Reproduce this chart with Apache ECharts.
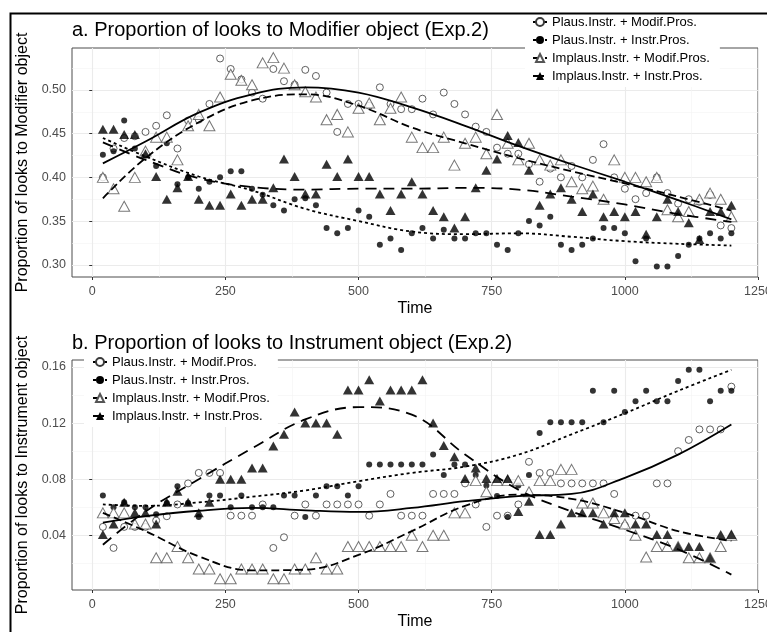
<!DOCTYPE html>
<html>
<head>
<meta charset="utf-8">
<script src="https://cdn.jsdelivr.net/npm/echarts@6/dist/echarts.min.js"></script>
<style>
html, body { margin: 0; padding: 0; background: #fff; }
#main { width: 767px; height: 632px; }
</style>
</head>
<body>
<div id="main"></div>
<script>
var myChart = echarts.init(document.getElementById('main'));

const names = ['Plaus.Instr. + Modif.Pros.', 'Plaus.Instr. + Instr.Pros.', 'Implaus.Instr. + Modif.Pros.', 'Implaus.Instr. + Instr.Pros.'];

// time bins (ms)
const times = [20, 40, 60, 80, 100, 120, 140, 160, 180, 200,
    220, 240, 260, 280, 300, 320, 340, 360, 380, 400,
    420, 440, 460, 480, 500, 520, 540, 560, 580, 600,
    620, 640, 660, 680, 700, 720, 740, 760, 780, 800,
    820, 840, 860, 880, 900, 920, 940, 960, 980, 1000,
    1020, 1040, 1060, 1080, 1100, 1120, 1140, 1160, 1180, 1200];

// a. looks to Modifier object
const aPlausModif = [0.400, 0.433, 0.445, 0.447, 0.452, 0.459, 0.471, 0.433, 0.465, 0.466,
    0.484, 0.536, 0.524, 0.512, 0.497, 0.490, 0.524, 0.510, 0.506, 0.523,
    0.516, 0.497, 0.452, 0.484, 0.484, 0.482, 0.503, 0.484, 0.478, 0.478,
    0.490, 0.472, 0.497, 0.484, 0.472, 0.458, 0.452, 0.434, 0.427, 0.427,
    0.415, 0.395, 0.410, 0.400, 0.413, 0.400, 0.420, 0.438, 0.400, 0.387,
    0.375, 0.382, 0.400, 0.382, 0.370, 0.375, 0.372, 0.380, 0.345, 0.342];
const aPlausInstr = [0.426, 0.430, 0.465, 0.433, 0.425, 0.413, 0.439, 0.392, 0.400, 0.387,
    0.395, 0.400, 0.407, 0.407, 0.387, 0.380, 0.368, 0.362, 0.375, 0.376,
    0.368, 0.342, 0.336, 0.342, 0.362, 0.355, 0.323, 0.330, 0.317, 0.336,
    0.342, 0.330, 0.340, 0.330, 0.330, 0.336, 0.336, 0.323, 0.317, 0.336,
    0.350, 0.345, 0.355, 0.323, 0.317, 0.323, 0.330, 0.342, 0.342, 0.336,
    0.304, 0.330, 0.298, 0.298, 0.310, 0.323, 0.330, 0.336, 0.330, 0.336];
const aImplausModif = [0.400, 0.387, 0.367, 0.400, 0.430, 0.446, 0.446, 0.420, 0.459, 0.472,
    0.459, 0.492, 0.518, 0.511, 0.506, 0.531, 0.537, 0.525, 0.506, 0.498,
    0.492, 0.466, 0.472, 0.452, 0.479, 0.485, 0.466, 0.479, 0.492, 0.446,
    0.434, 0.434, 0.446, 0.414, 0.439, 0.446, 0.427, 0.472, 0.439, 0.420,
    0.439, 0.420, 0.414, 0.420, 0.395, 0.387, 0.390, 0.375, 0.420, 0.400,
    0.400, 0.395, 0.400, 0.363, 0.355, 0.361, 0.375, 0.382, 0.375, 0.355];
const aImplausInstr = [0.455, 0.455, 0.449, 0.449, 0.427, 0.401, 0.375, 0.388, 0.401, 0.375,
    0.368, 0.368, 0.381, 0.368, 0.375, 0.375, 0.388, 0.421, 0.401, 0.381,
    0.381, 0.415, 0.401, 0.421, 0.401, 0.401, 0.381, 0.362, 0.381, 0.395,
    0.381, 0.362, 0.355, 0.342, 0.355, 0.388, 0.408, 0.421, 0.448, 0.440,
    0.408, 0.368, 0.381, 0.388, 0.375, 0.361, 0.381, 0.355, 0.361, 0.355,
    0.361, 0.335, 0.355, 0.375, 0.361, 0.348, 0.329, 0.361, 0.361, 0.368];

// b. looks to Instrument object
const bPlausModif = [0.046, 0.031, 0.046, 0.046, 0.046, 0.0505, 0.0536, 0.062, 0.077, 0.0845,
    0.0845, 0.0845, 0.054, 0.054, 0.054, 0.062, 0.031, 0.0386, 0.054, 0.062,
    0.054, 0.062, 0.062, 0.062, 0.062, 0.054, 0.062, 0.0695, 0.054, 0.054,
    0.054, 0.0695, 0.0695, 0.0695, 0.077, 0.062, 0.046, 0.054, 0.054, 0.062,
    0.0924, 0.0845, 0.0845, 0.077, 0.077, 0.077, 0.077, 0.077, 0.0695, 0.047,
    0.054, 0.054, 0.077, 0.077, 0.100, 0.108, 0.1155, 0.1155, 0.1155, 0.146];
const bPlausInstr = [0.0683, 0.060, 0.0636, 0.060, 0.060, 0.055, 0.063, 0.075, 0.063, 0.053,
    0.0683, 0.0683, 0.060, 0.0683, 0.060, 0.060, 0.060, 0.0683, 0.0683, 0.053,
    0.0683, 0.075, 0.075, 0.0683, 0.075, 0.0905, 0.0905, 0.0905, 0.0905, 0.0905,
    0.0905, 0.0976, 0.083, 0.0905, 0.0905, 0.083, 0.0755, 0.068, 0.053, 0.0755,
    0.083, 0.113, 0.1207, 0.1207, 0.1207, 0.1207, 0.143, 0.1207, 0.143, 0.128,
    0.1355, 0.143, 0.1355, 0.1355, 0.150, 0.158, 0.158, 0.1355, 0.143, 0.143];
const bImplausModif = [0.056, 0.056, 0.056, 0.048, 0.048, 0.024, 0.024, 0.032, 0.024, 0.016,
    0.016, 0.009, 0.009, 0.016, 0.016, 0.016, 0.009, 0.009, 0.016, 0.016,
    0.024, 0.016, 0.016, 0.032, 0.032, 0.032, 0.032, 0.032, 0.032, 0.040,
    0.032, 0.040, 0.040, 0.056, 0.056, 0.079, 0.071, 0.079, 0.079, 0.079,
    0.071, 0.079, 0.079, 0.087, 0.087, 0.063, 0.063, 0.056, 0.052, 0.048,
    0.040, 0.0245, 0.032, 0.032, 0.032, 0.024, 0.024, 0.024, 0.032, 0.040];
const bImplausInstr = [0.0405, 0.048, 0.0636, 0.056, 0.056, 0.048, 0.0636, 0.0714, 0.0636, 0.056,
    0.0636, 0.080, 0.080, 0.080, 0.088, 0.088, 0.1036, 0.112, 0.128, 0.120,
    0.120, 0.120, 0.112, 0.1436, 0.1436, 0.151, 0.1357, 0.1436, 0.1436, 0.1436,
    0.151, 0.120, 0.104, 0.096, 0.0805, 0.088, 0.0805, 0.0805, 0.0805, 0.057,
    0.0643, 0.0405, 0.0405, 0.048, 0.056, 0.056, 0.056, 0.048, 0.056, 0.056,
    0.048, 0.048, 0.0405, 0.0405, 0.032, 0.032, 0.032, 0.024, 0.0405, 0.0405];

// smoothed curves
const fitTimes = [20, 100, 200, 300, 400, 500, 600, 700, 800, 900, 1000, 1100, 1200];
const aFitPlausModif = [0.416, 0.441, 0.474, 0.495, 0.503, 0.497, 0.480, 0.459, 0.436, 0.415, 0.395, 0.374, 0.352];
const aFitPlausInstr = [0.445, 0.424, 0.401, 0.385, 0.364, 0.350, 0.338, 0.335, 0.336, 0.332, 0.327, 0.324, 0.322];
const aFitImplausModif = [0.376, 0.422, 0.463, 0.488, 0.495, 0.482, 0.457, 0.439, 0.422, 0.407, 0.393, 0.378, 0.362];
const aFitImplausInstr = [0.440, 0.420, 0.399, 0.389, 0.386, 0.387, 0.387, 0.388, 0.386, 0.378, 0.369, 0.358, 0.349];
const bFitPlausModif = [0.049, 0.0536, 0.0575, 0.0595, 0.0578, 0.0567, 0.0595, 0.0643, 0.068, 0.0695, 0.081, 0.0975, 0.119];
const bFitPlausInstr = [0.062, 0.061, 0.0635, 0.0675, 0.072, 0.0786, 0.0845, 0.089, 0.0975, 0.112, 0.127, 0.143, 0.158];
const bFitImplausModif = [0.056, 0.043, 0.025, 0.015, 0.0155, 0.026, 0.043, 0.061, 0.069, 0.066, 0.056, 0.043, 0.036];
const bFitImplausInstr = [0.0333, 0.057, 0.080, 0.102, 0.1226, 0.1314, 0.126, 0.0976, 0.0726, 0.057, 0.044, 0.030, 0.012];

// tick labels
const xMajor = [0, 250, 500, 750, 1000, 1250];
const xMinor = [125, 375, 625, 875, 1125];
const aYMajor = [0.30, 0.35, 0.40, 0.45, 0.50];
const aYMinor = [0.325, 0.375, 0.425, 0.475, 0.525];
const bYMajor = [0.04, 0.08, 0.12, 0.16];
const bYMinor = [0.02, 0.06, 0.10, 0.14];

const FONT = "'Liberation Sans', Arial, sans-serif";

// marker / line look per condition
const looks = [
    { symbol: 'circle', size: 7, fill: '#fff', border: '#3a3a3a', dash: 'solid' },
    { symbol: 'circle', size: 6, fill: '#000', border: '#000', dash: [3, 3] },
    { symbol: 'triangle', size: [11, 10], fill: '#fff', border: '#555', dash: [8, 4] },
    { symbol: 'triangle', size: [10, 9], fill: '#000', border: '#000', dash: [11, 7] }
];

function pairs(xs, ys) {
    return xs.map((x, i) => [x, ys[i]]);
}

function panelSeries(axisIdx, pointSets, fitSets) {
    const out = [];
    pointSets.forEach((vals, k) => {
        const lk = looks[k];
        out.push({
            type: 'scatter',
            name: names[k] + ' pts',
            xAxisIndex: axisIdx,
            yAxisIndex: axisIdx,
            data: pairs(times, vals),
            symbol: lk.symbol,
            symbolSize: lk.size,
            itemStyle: { color: lk.fill, borderColor: lk.border, borderWidth: lk.fill === '#fff' ? 1 : 0 },
            silent: true,
            z: 2
        });
    });
    fitSets.forEach((vals, k) => {
        const lk = looks[k];
        out.push({
            type: 'line',
            name: names[k],
            xAxisIndex: axisIdx,
            yAxisIndex: axisIdx,
            data: pairs(fitTimes, vals),
            smooth: 0.4,
            showSymbol: false,
            symbol: lk.symbol,
            symbolSize: lk.size,
            itemStyle: { color: lk.fill, borderColor: lk.border, borderWidth: lk.fill === '#fff' ? 1 : 0 },
            lineStyle: { color: '#000', width: 1.8, type: lk.dash },
            silent: true,
            z: 3
        });
    });
    return out;
}

function xAxes(gridIndex) {
    return [{
        gridIndex: gridIndex,
        type: 'value',
        min: -38,
        max: 1250,
        position: 'bottom',
        axisLine: { show: false },
        axisTick: { show: true, length: 3, customValues: xMajor, lineStyle: { color: '#333', width: 1 } },
        axisLabel: { customValues: xMajor, color: '#4d4d4d', fontSize: 12.5, margin: 8, fontFamily: FONT,
            formatter: (v) => String(v) },
        splitLine: { show: true, lineStyle: { color: '#ebebeb', width: 1.1 } },
        name: 'Time',
        nameLocation: 'middle',
        nameGap: 24,
        nameTextStyle: { color: '#000', fontSize: 16, fontFamily: FONT }
    }, {
        gridIndex: gridIndex,
        type: 'value',
        min: -38,
        max: 1250,
        position: 'bottom',
        axisLine: { show: false },
        axisTick: { show: false, customValues: xMinor },
        axisLabel: { show: false, customValues: xMinor },
        splitLine: { show: true, lineStyle: { color: '#f3f3f3', width: 0.6 } }
    }];
}

function yAxes(gridIndex, min, max, major, minor, title) {
    return [{
        gridIndex: gridIndex,
        type: 'value',
        min: min,
        max: max,
        position: 'left',
        axisLine: { show: false },
        axisTick: { show: true, length: 3, customValues: major, lineStyle: { color: '#333', width: 1 } },
        axisLabel: { customValues: major, color: '#4d4d4d', fontSize: 12.5, margin: 6, fontFamily: FONT,
            formatter: (v) => v.toFixed(2) },
        splitLine: { show: true, lineStyle: { color: '#ebebeb', width: 1.1 } },
        name: title,
        nameLocation: 'middle',
        nameGap: 37,
        nameTextStyle: { color: '#000', fontSize: 16, fontFamily: FONT }
    }, {
        gridIndex: gridIndex,
        type: 'value',
        min: min,
        max: max,
        position: 'left',
        axisLine: { show: false },
        axisTick: { show: false, customValues: minor },
        axisLabel: { show: false, customValues: minor },
        splitLine: { show: true, lineStyle: { color: '#f3f3f3', width: 0.6 } }
    }];
}

function legendAt(left, top, padding) {
    return {
        data: names,
        orient: 'vertical',
        left: left,
        top: top,
        padding: padding,
        itemWidth: 14,
        itemHeight: 10,
        itemGap: 4,
        backgroundColor: '#fff',
        selectedMode: false,
        textStyle: { fontSize: 13, lineHeight: 14, color: '#000', fontFamily: FONT }
    };
}

option = {
    animation: false,
    backgroundColor: '#fff',
    textStyle: { fontFamily: FONT },
    title: [{
        text: 'a. Proportion of looks to Modifier object (Exp.2)',
        left: 67,
        top: 15,
        textStyle: { fontSize: 20, fontWeight: 'normal', color: '#000', fontFamily: FONT }
    }, {
        text: 'b. Proportion of looks to Instrument object (Exp.2)',
        left: 67,
        top: 328,
        textStyle: { fontSize: 20, fontWeight: 'normal', color: '#000', fontFamily: FONT }
    }],
    legend: [
        legendAt(525, 9, [6, 10, 4, 7]),
        legendAt(84, 351, [4, 8, 4, 8])
    ],
    grid: [
        { left: 72, top: 48, width: 686, height: 229, show: true, backgroundColor: '#fff',
          borderColor: '#4d4d4d', borderWidth: 1, containLabel: false, outerBoundsMode: 'none' },
        { left: 72, top: 360, width: 686, height: 230, show: true, backgroundColor: '#fff',
          borderColor: '#4d4d4d', borderWidth: 1, containLabel: false, outerBoundsMode: 'none' }
    ],
    xAxis: xAxes(0).concat(xAxes(1)),
    yAxis: yAxes(0, 0.286, 0.548, aYMajor, aYMinor, 'Proportion of looks to Modifier object')
        .concat(yAxes(1, 0.001, 0.165, bYMajor, bYMinor, 'Proportion of looks to Instrument object')),
    graphic: [{
        type: 'rect',
        shape: { x: 10.5, y: 13.5, width: 800, height: 700 },
        style: { fill: 'none', stroke: '#000', lineWidth: 2 },
        z: 100,
        silent: true
    }],
    series: panelSeries(0,
        [aPlausModif, aPlausInstr, aImplausModif, aImplausInstr],
        [aFitPlausModif, aFitPlausInstr, aFitImplausModif, aFitImplausInstr])
        .concat(panelSeries(2,
        [bPlausModif, bPlausInstr, bImplausModif, bImplausInstr],
        [bFitPlausModif, bFitPlausInstr, bFitImplausModif, bFitImplausInstr]))
};

myChart.setOption(option);
</script>
</body>
</html>
